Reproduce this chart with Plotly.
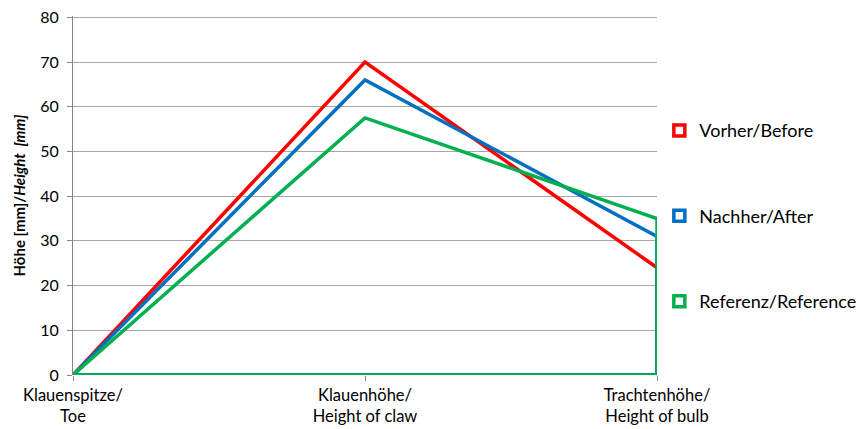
import plotly.graph_objects as go

categories = ["Klauenspitze/<br>Toe", "Klauenhöhe/<br>Height of claw", "Trachtenhöhe/<br>Height of bulb"]
series_names = ["Vorher/Before", "Nachher/After", "Referenz/Reference"]
vorher = [0, 70, 24]
nachher = [0, 66, 31]
referenz = [0, 57.5, 35]
colors = ["#ff0000", "#0070c0", "#00b050"]
y_ticks = [0, 10, 20, 30, 40, 50, 60, 70, 80]

xs = list(range(len(categories)))
fig = go.Figure()
for i, (name, vals, col) in enumerate(zip(series_names, [vorher, nachher, referenz], colors)):
    # area outline: along values, down to baseline, back to start
    px = xs + [xs[-1], xs[0]]
    py = vals + [0, 0]
    fig.add_trace(go.Scatter(x=px, y=py, mode="lines", line=dict(color=col, width=3.5),
                             showlegend=False, cliponaxis=False, hoverinfo="skip"))
for i, (name, col) in enumerate(zip(series_names, colors)):
    fig.add_trace(go.Scatter(x=[None], y=[None], mode="markers", name=name,
                             legendgroup=f"g{i}",
                             marker=dict(symbol="square-open", size=11, color=col,
                                         line=dict(width=3.5, color=col))))

# the page body adds an 8px offset, so the figure is sized to fit the window
fig.update_layout(
    width=856, height=421,
    margin=dict(l=65, r=207, t=7.6, b=54, autoexpand=False),
    paper_bgcolor="white", plot_bgcolor="white",
    font=dict(family="Lato, Carlito, Calibri, sans-serif", color="#000000", size=16),
    showlegend=True,
    legend=dict(x=1.004, y=0.732, xanchor="left", yanchor="top",
                font=dict(size=18), tracegroupgap=59, itemwidth=30,
                bgcolor="rgba(0,0,0,0)"),
    xaxis=dict(range=[0, 2], tickmode="array", tickvals=xs, ticktext=categories,
               showgrid=False, zeroline=False, showline=False, automargin=False,
               ticks="outside", ticklen=5, tickcolor="#868686",
               ticklabeloverflow="allow",
               tickfont=dict(size=16.5)),
    yaxis=dict(range=[0, 80.3], tickmode="array", tickvals=y_ticks,
               showgrid=True, gridcolor="#a6a6a6", gridwidth=1,
               zeroline=False, showline=True, linecolor="#868686", linewidth=1,
               automargin=False, ticklabelstandoff=5, ticklabeloverflow="allow",
               ticks="outside", ticklen=5, tickcolor="#868686",
               tickfont=dict(size=16),
               title=dict(text="<b>Höhe [mm]/<i>Height  [mm]</i></b>", font=dict(size=15), standoff=10)),
)
fig.write_html("out.html")
